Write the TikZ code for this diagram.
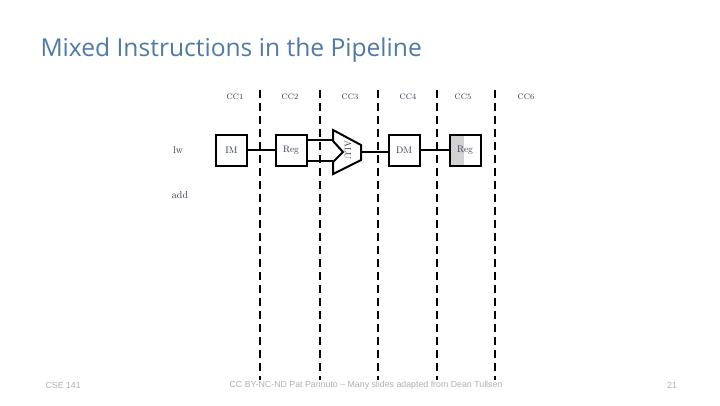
\documentclass[tikz,border=0pt]{standalone}
\usepackage{fontspec}
\newfontfamily\titlefont{Open Sans}
\newfontfamily\footfont{Liberation Sans}
\definecolor{titleblue}{RGB}{79,121,166}
\definecolor{labcol}{RGB}{45,55,80}
\definecolor{footgray}{RGB}{175,175,175}
\tikzset{
  stagebox/.style={draw=black, line width=2pt, minimum width=31pt, minimum height=31pt, inner sep=0pt, font=\fontsize{9.5}{10}\selectfont, text=labcol},
  cclab/.style={font=\fontsize{8}{9}\selectfont, text=labcol},
  instr/.style={font=\fontsize{10}{11}\selectfont, text=labcol},
  divider/.style={draw=black, line width=1.8pt, dash pattern=on 8pt off 5pt},
  wire/.style={draw=black, line width=2pt},
  foot/.style={font=\footfont\fontsize{8.8}{10}\selectfont, text=footgray}
}
\begin{document}
\begin{tikzpicture}[x=1pt,y=-1pt]
\useasboundingbox (0,0) rectangle (720,405);
% title
\node[anchor=west, font=\titlefont\fontsize{24.6}{28}\selectfont, text=titleblue] (title) at (37,50) {Mixed Instructions in the Pipeline};
% dividers
\foreach \x/\n in {260/d1,320/d2,378/d3,437/d4,495/d5} {
  \coordinate (\n t) at (\x,90);
  \coordinate (\n b) at (\x,380);
  \draw[divider] (\n t) -- (\n b);
}
% cycle labels
\node[cclab] (cc1) at (235,97) {CC1};
\node[cclab] (cc2) at (290,97) {CC2};
\node[cclab] (cc3) at (350,97) {CC3};
\node[cclab] (cc4) at (408,97) {CC4};
\node[cclab] (cc5) at (463,97) {CC5};
\node[cclab] (cc6) at (526,97) {CC6};
% instruction labels
\node[instr] (lw) at (178,150) {lw};
\node[instr] (add) at (180,195) {add};
% stages
\node[stagebox] (im) at (231.5,150) {IM};
\node[stagebox] (reg) at (291,150) {Reg};
\node[stagebox] (dm) at (404,150) {DM};
\fill[gray!35] (449,134) rectangle (464,166);
\node[stagebox] (reg2) at (465,150) {Reg};
% ALU
\draw[wire, line join=miter] (333,130) -- (361,145) -- (361,160) -- (333,174) -- (333,162) -- (343,152) -- (333,141) -- cycle;
\coordinate (aluin1) at (333,140);
\coordinate (aluin2) at (333,161);
\coordinate (aluout) at (361,152);
\node[rotate=-90, font=\fontsize{9}{10}\selectfont, text=labcol, inner sep=0pt] (alu) at (348,150) {ALU};
% wires
\draw[wire] (im.east) -- (reg.west);
\draw[wire] (reg.east |- aluin1) -- (aluin1);
\draw[wire] (reg.east |- aluin2) -- (aluin2);
\draw[wire] (aluout) -- (dm.west |- aluout);
\draw[wire] (dm.east) -- (reg2.west);
% footer
\node[foot, anchor=west] (f1) at (42,385) {CSE 141};
\node[foot] (f2) at (366,385) {CC BY-NC-ND Pat Pannuto – Many slides adapted from Dean Tullsen};
\node[foot] (f3) at (672,385) {21};
\end{tikzpicture}
\end{document}
